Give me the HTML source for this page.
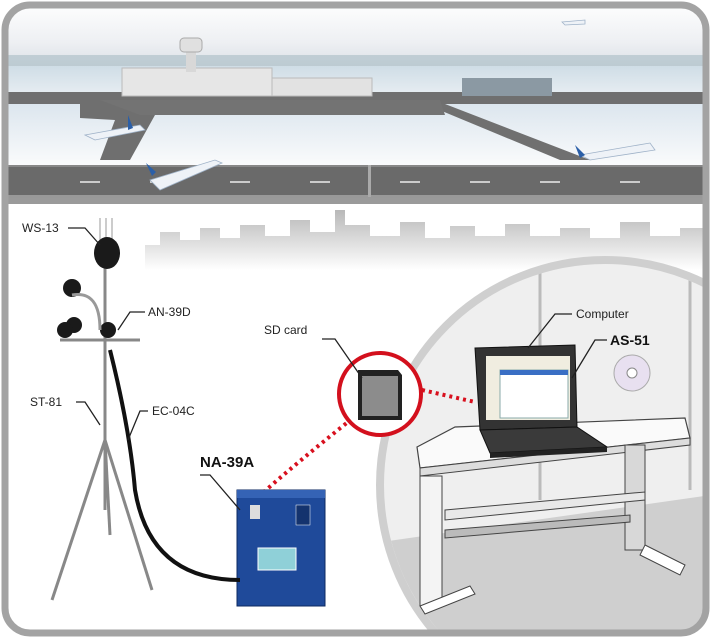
<!DOCTYPE html>
<html><head><meta charset="utf-8"><style>
html,body{margin:0;padding:0;background:#fff;width:711px;height:638px;overflow:hidden;}
svg{display:block;}
text{font-family:"Liberation Sans",sans-serif;}
</style></head><body>
<svg width="711" height="638" viewBox="0 0 711 638" xmlns="http://www.w3.org/2000/svg">
<defs>
<linearGradient id="sky" x1="0" y1="0" x2="0" y2="1">
<stop offset="0" stop-color="#ffffff"/><stop offset="0.6" stop-color="#eef0f3"/><stop offset="1" stop-color="#d8dfe5"/>
</linearGradient>
<linearGradient id="water" x1="0" y1="0" x2="0" y2="1">
<stop offset="0" stop-color="#cfdde6"/><stop offset="1" stop-color="#e8eef2"/>
</linearGradient>
<linearGradient id="field" x1="0" y1="0" x2="0" y2="1">
<stop offset="0" stop-color="#dce6ee"/><stop offset="1" stop-color="#fafbfc"/>
</linearGradient>
<linearGradient id="city" x1="0" y1="0" x2="0" y2="1">
<stop offset="0" stop-color="#b8b8b8"/><stop offset="1" stop-color="#ffffff"/>
</linearGradient>
<clipPath id="frame"><rect x="6" y="6" width="699" height="626" rx="24"/></clipPath>
</defs>
<g clip-path="url(#frame)">
<rect x="0" y="0" width="711" height="638" fill="#fff"/>
<rect x="0" y="0" width="711" height="70" fill="url(#sky)"/>
<rect x="0" y="55" width="711" height="12" fill="#a9bcc4" opacity="0.6"/>
<rect x="0" y="66" width="711" height="30" fill="url(#water)"/>
<rect x="0" y="92" width="711" height="12" fill="#6f6f6f"/>
<rect x="0" y="104" width="711" height="62" fill="url(#field)"/>
<polygon points="80,104 150,104 155,115 130,160 100,160 115,120 80,118" fill="#6f6f6f"/>
<polygon points="0,170 0,182 70,182 70,170" fill="#777"/>
<polygon points="425,104 445,104 590,160 560,160" fill="#707070"/>
<polygon points="100,100 440,100 445,115 140,115" fill="#737373"/>
<rect x="122" y="68" width="150" height="28" fill="#e6e6e6" stroke="#bbb"/>
<rect x="272" y="78" width="100" height="18" fill="#e2e2e2" stroke="#bbb"/>
<rect x="186" y="38" width="10" height="34" fill="#d8d8d8"/>
<rect x="180" y="38" width="22" height="14" rx="4" fill="#e0e0e0" stroke="#aaa"/>
<rect x="462" y="78" width="90" height="18" fill="#8b99a3"/>
<rect x="0" y="165" width="711" height="32" fill="#6a6a6a"/>
<rect x="0" y="165" width="711" height="2" fill="#888"/>
<rect x="0" y="195" width="711" height="3" fill="#999"/>
<rect x="368" y="165" width="3" height="32" fill="#aaa"/>
<g fill="#ccc">
<rect x="80" y="181" width="20" height="2"/><rect x="150" y="181" width="20" height="2"/><rect x="230" y="181" width="20" height="2"/><rect x="310" y="181" width="20" height="2"/><rect x="400" y="181" width="20" height="2"/><rect x="470" y="181" width="20" height="2"/><rect x="540" y="181" width="20" height="2"/><rect x="620" y="181" width="20" height="2"/>
</g>
<g fill="#eef2f7" stroke="#9fb2c8" stroke-width="0.8">
<path d="M150,180 L215,160 L222,163 L160,190 Z"/>
<path d="M580,155 L650,143 L655,150 L590,160 Z"/>
<path d="M85,135 L140,125 L145,130 L95,140 Z"/>
<path d="M562,22 L585,20 L585,24 L565,25 Z"/>
</g>
<path d="M146,163 L156,172 L152,176 Z" fill="#2b5fa8"/>
<path d="M575,145 L585,155 L580,158 Z" fill="#2b5fa8"/>
<path d="M128,115 L133,128 L128,130 Z" fill="#2b5fa8"/>
<rect x="0" y="198" width="711" height="6" fill="#9a9a9a"/>
<path d="M145,270 L145,245 L160,245 L160,232 L180,232 L180,240 L200,240 L200,228 L220,228 L220,238 L240,238 L240,225 L265,225 L265,236 L290,236 L290,220 L310,220 L310,232 L335,232 L335,210 L345,210 L345,225 L370,225 L370,236 L400,236 L400,222 L425,222 L425,238 L450,238 L450,226 L475,226 L475,236 L505,236 L505,224 L530,224 L530,236 L560,236 L560,228 L590,228 L590,238 L620,238 L620,222 L650,222 L650,236 L680,236 L680,228 L711,228 L711,270 Z" fill="url(#city)"/>
<circle cx="605" cy="485" r="225" fill="#efefef" stroke="#cfcfcf" stroke-width="8"/>
<clipPath id="cc"><circle cx="605" cy="485" r="221"/></clipPath>
<g clip-path="url(#cc)">
<polygon points="360,545 711,495 711,640 360,640" fill="#cfcfcf"/>
<line x1="540" y1="270" x2="540" y2="500" stroke="#bbb" stroke-width="3"/>
<line x1="690" y1="270" x2="690" y2="490" stroke="#bbb" stroke-width="3"/>
</g>
<polygon points="417,447 455,427 685,418 690,438 420,468" fill="#fafafa" stroke="#444" stroke-width="1.2"/>
<polygon points="420,468 690,438 690,445 420,476" fill="#ddd" stroke="#444"/>
<rect x="420" y="476" width="22" height="130" fill="#f4f4f4" stroke="#444"/>
<polygon points="420,606 470,586 475,594 425,614" fill="#fff" stroke="#444"/>
<rect x="625" y="445" width="20" height="105" fill="#d8d8d8" stroke="#444"/>
<polygon points="645,545 685,565 680,575 640,555" fill="#fff" stroke="#444"/>
<polygon points="445,510 645,492 645,500 445,520" fill="#e8e8e8" stroke="#444"/>
<polygon points="445,530 630,515 630,522 445,538" fill="#bbb" stroke="#444"/>
<polygon points="475,348 575,345 577,427 480,430" fill="#333" stroke="#111"/>
<rect x="486" y="356" width="84" height="64" fill="#f0ede0"/>
<rect x="500" y="370" width="68" height="48" fill="#fff" stroke="#8aa"/>
<rect x="500" y="370" width="68" height="5" fill="#3a6fc4"/>
<polygon points="480,430 577,427 607,447 490,453" fill="#3a3a3a" stroke="#111"/>
<polygon points="490,453 607,447 607,452 490,458" fill="#222"/>
<circle cx="632" cy="373" r="18" fill="#e8e0f0" stroke="#aaa"/>
<circle cx="632" cy="373" r="5" fill="#fff" stroke="#888"/>
</g>
<rect x="5" y="5" width="701" height="628" rx="25" fill="none" stroke="#a3a3a3" stroke-width="7"/>
<path d="M258,497 Q300,460 348,422" fill="none" stroke="#d8101e" stroke-width="4" stroke-dasharray="3,4"/>
<path d="M422,390 L475,402" fill="none" stroke="#d8101e" stroke-width="4" stroke-dasharray="3,4"/>
<circle cx="380" cy="394" r="41" fill="#fff" stroke="#d3101d" stroke-width="4"/>
<polygon points="358,370 398,370 402,375 402,420 358,420" fill="#222"/>
<rect x="362" y="376" width="36" height="40" fill="#8c8c8c"/>
<rect x="237" y="490" width="88" height="116" fill="#1f4a9a" stroke="#0e2a60"/>
<rect x="237" y="490" width="88" height="8" fill="#3563b5"/>
<rect x="258" y="548" width="38" height="22" fill="#8fd0d8" stroke="#fff"/>
<rect x="296" y="505" width="14" height="20" fill="#14336e" stroke="#fff" stroke-width="0.5"/>
<rect x="250" y="505" width="10" height="14" fill="#ddd"/>
<g stroke="#888" stroke-width="3" fill="none">
<line x1="105" y1="330" x2="105" y2="510"/>
<line x1="105" y1="440" x2="52" y2="600"/>
<line x1="105" y1="440" x2="152" y2="590"/>
<line x1="105" y1="440" x2="110" y2="535"/>
<line x1="105" y1="260" x2="105" y2="340"/>
<line x1="60" y1="340" x2="140" y2="340"/>
</g>
<g stroke="#bbb" stroke-width="1.5">
<line x1="100" y1="218" x2="100" y2="245"/><line x1="106" y1="218" x2="106" y2="245"/><line x1="112" y1="218" x2="112" y2="245"/>
</g>
<path d="M110,350 Q130,430 135,490 Q150,580 240,580" fill="none" stroke="#111" stroke-width="4"/>
<ellipse cx="107" cy="253" rx="13" ry="16" fill="#1a1a1a"/>
<circle cx="72" cy="288" r="9" fill="#1a1a1a"/>
<circle cx="74" cy="325" r="8" fill="#1a1a1a"/>
<circle cx="65" cy="330" r="8" fill="#1a1a1a"/>
<circle cx="108" cy="330" r="8" fill="#1a1a1a"/>
<path d="M72,295 Q100,290 100,330" fill="none" stroke="#999" stroke-width="3"/>
<g stroke="#222" stroke-width="1.3" fill="none">
<polyline points="68,228 85,228 100,245"/>
<polyline points="145,312 130,312 118,330"/>
<polyline points="76,402 85,402 100,425"/>
<polyline points="148,411 140,411 128,440"/>
<polyline points="200,475 210,475 240,510"/>
<polyline points="322,339 335,339 362,378"/>
<polyline points="572,314 555,314 528,348"/>
<polyline points="607,340 595,340 572,378"/>
</g>
<g font-size="12" fill="#222">
<text x="22" y="232">WS-13</text>
<text x="148" y="316">AN-39D</text>
<text x="30" y="406">ST-81</text>
<text x="152" y="415">EC-04C</text>
<text x="264" y="334">SD card</text>
<text x="576" y="318">Computer</text>
</g>
<text x="200" y="467" font-size="15" font-weight="bold" fill="#111">NA-39A</text>
<text x="610" y="345" font-size="14" font-weight="bold" fill="#111">AS-51</text>
</svg>
</body></html>
